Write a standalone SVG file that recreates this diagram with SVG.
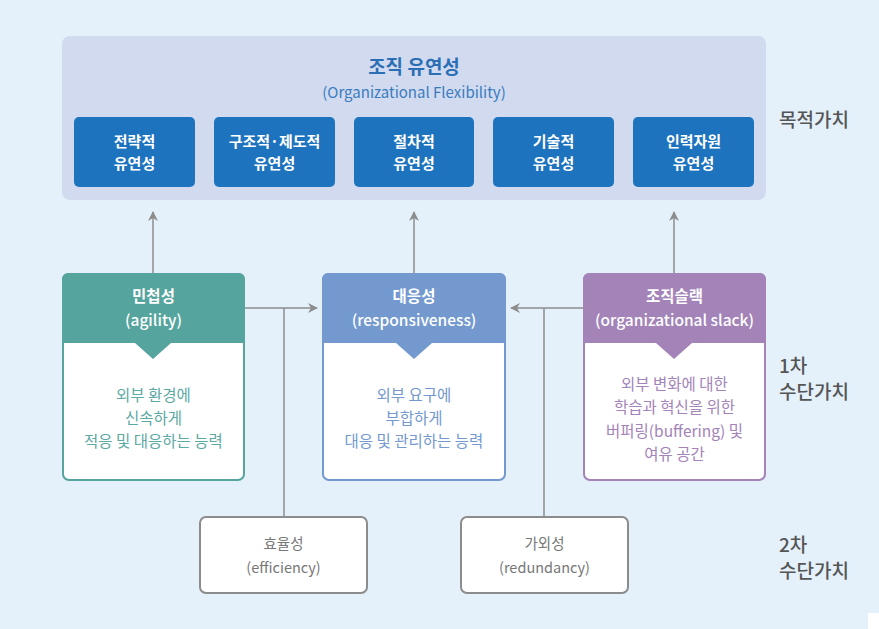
<svg xmlns="http://www.w3.org/2000/svg" width="879" height="629" viewBox="0 0 879 629">
<defs>
<style>
text{font-family:"Noto Sans CJK KR","Noto Sans",sans-serif;text-anchor:middle}
.blue{fill:#1E73BE}
.bt{fill:#fff;font-size:15px;font-weight:bold}
.ht{fill:#fff;font-size:15.5px;font-weight:bold}
.he{fill:#fff;font-size:15.5px;font-weight:500}
.body{font-size:15.5px}
.side{fill:#555;font-size:19px;font-weight:500;text-anchor:start}
.con{stroke:#8C8C8C;stroke-width:1.5;fill:none}
.t2{fill:#fff;stroke:#8C8C8C;stroke-width:2}
.t2t{fill:#777;font-size:14.5px}
</style>
<marker id="ah" viewBox="0 0 10 10" refX="9" refY="5" markerWidth="10" markerHeight="10" markerUnits="userSpaceOnUse" orient="auto">
<path d="M0,0 L10,5 L0,10 L3,5 Z" fill="#8C8C8C"/>
</marker>
</defs>
<rect width="879" height="629" fill="#E4F1FB"/>
<rect x="868" y="613" width="11" height="16" fill="#fff"/>

<g id="goal">
<rect x="62" y="36" width="704" height="164" rx="8" fill="#D1DAEE"/>
<text x="414" y="74" fill="#2A6EB5" font-size="19" font-weight="bold">조직 유연성</text>
<text x="414" y="98" fill="#3A7CC0" font-size="15">(Organizational Flexibility)</text>
</g>
<g id="strategic"><rect class="blue" x="74" y="117" width="121" height="70" rx="5"/><text class="bt" x="134.5" y="147">전략적</text><text class="bt" x="134.5" y="169">유연성</text></g>
<g id="structural"><rect class="blue" x="214" y="117" width="121" height="70" rx="5"/><text class="bt" x="274.5" y="147">구조적·제도적</text><text class="bt" x="274.5" y="169">유연성</text></g>
<g id="procedural"><rect class="blue" x="354" y="117" width="120" height="70" rx="5"/><text class="bt" x="414" y="147">절차적</text><text class="bt" x="414" y="169">유연성</text></g>
<g id="technical"><rect class="blue" x="493" y="117" width="121" height="70" rx="5"/><text class="bt" x="553.5" y="147">기술적</text><text class="bt" x="553.5" y="169">유연성</text></g>
<g id="hr"><rect class="blue" x="633" y="117" width="121" height="70" rx="5"/><text class="bt" x="693.5" y="147">인력자원</text><text class="bt" x="693.5" y="169">유연성</text></g>

<g id="connectors">
<line class="con" x1="153" y1="273" x2="153" y2="212" marker-end="url(#ah)"/>
<line class="con" x1="414" y1="273" x2="414" y2="212" marker-end="url(#ah)"/>
<line class="con" x1="674" y1="273" x2="674" y2="212" marker-end="url(#ah)"/>
<line class="con" x1="245" y1="308" x2="317" y2="308" marker-end="url(#ah)"/>
<line class="con" x1="284" y1="308" x2="284" y2="517"/>
<line class="con" x1="583" y1="308" x2="511" y2="308" marker-end="url(#ah)"/>
<line class="con" x1="544" y1="308" x2="544" y2="517"/>
</g>

<g id="agility">
<rect x="63" y="274" width="181" height="206" rx="6" fill="#fff" stroke="#55A49E" stroke-width="2"/>
<path d="M62,279 a6,6 0 0 1 6,-6 h171 a6,6 0 0 1 6,6 v64 h-74 l-18,16 l-18,-16 h-73 z" fill="#55A49E"/>
<text class="ht" x="153.5" y="302">민첩성</text>
<text class="he" x="153.5" y="326">(agility)</text>
<text class="body" x="153.5" y="401" fill="#5BA9A3">외부 환경에</text>
<text class="body" x="153.5" y="424" fill="#5BA9A3">신속하게</text>
<text class="body" x="153.5" y="447" fill="#5BA9A3">적응 및 대응하는 능력</text>
</g>

<g id="responsiveness">
<rect x="323" y="274" width="182" height="206" rx="6" fill="#fff" stroke="#7399CF" stroke-width="2"/>
<path d="M322,279 a6,6 0 0 1 6,-6 h172 a6,6 0 0 1 6,6 v64 h-74 l-18,16 l-18,-16 h-74 z" fill="#7399CF"/>
<text class="ht" x="414" y="302">대응성</text>
<text class="he" x="414" y="326">(responsiveness)</text>
<text class="body" x="414" y="401" fill="#7399CF">외부 요구에</text>
<text class="body" x="414" y="424" fill="#7399CF">부합하게</text>
<text class="body" x="414" y="447" fill="#7399CF">대응 및 관리하는 능력</text>
</g>

<g id="slack">
<rect x="584" y="274" width="181" height="206" rx="6" fill="#fff" stroke="#A383B8" stroke-width="2"/>
<path d="M583,279 a6,6 0 0 1 6,-6 h171 a6,6 0 0 1 6,6 v64 h-74 l-18,16 l-18,-16 h-73 z" fill="#A383B8"/>
<text class="ht" x="674.5" y="302">조직슬랙</text>
<text class="he" x="674.5" y="326">(organizational slack)</text>
<text class="body" x="674.5" y="390" fill="#A383B8">외부 변화에 대한</text>
<text class="body" x="674.5" y="413" fill="#A383B8">학습과 혁신을 위한</text>
<text class="body" x="674.5" y="437" fill="#A383B8">버퍼링(buffering) 및</text>
<text class="body" x="674.5" y="460" fill="#A383B8">여유 공간</text>
</g>

<g id="efficiency">
<rect class="t2" x="200" y="517" width="167" height="76" rx="6"/>
<text class="t2t" x="283.5" y="549">효율성</text>
<text class="t2t" x="283.5" y="573">(efficiency)</text>
</g>
<g id="redundancy">
<rect class="t2" x="461" y="517" width="167" height="76" rx="6"/>
<text class="t2t" x="544.5" y="549">가외성</text>
<text class="t2t" x="544.5" y="573">(redundancy)</text>
</g>

<g id="labels">
<text class="side" x="779" y="127">목적가치</text>
<text class="side" x="779" y="373">1차</text>
<text class="side" x="779" y="399">수단가치</text>
<text class="side" x="779" y="552">2차</text>
<text class="side" x="779" y="578">수단가치</text>
</g>
</svg>
